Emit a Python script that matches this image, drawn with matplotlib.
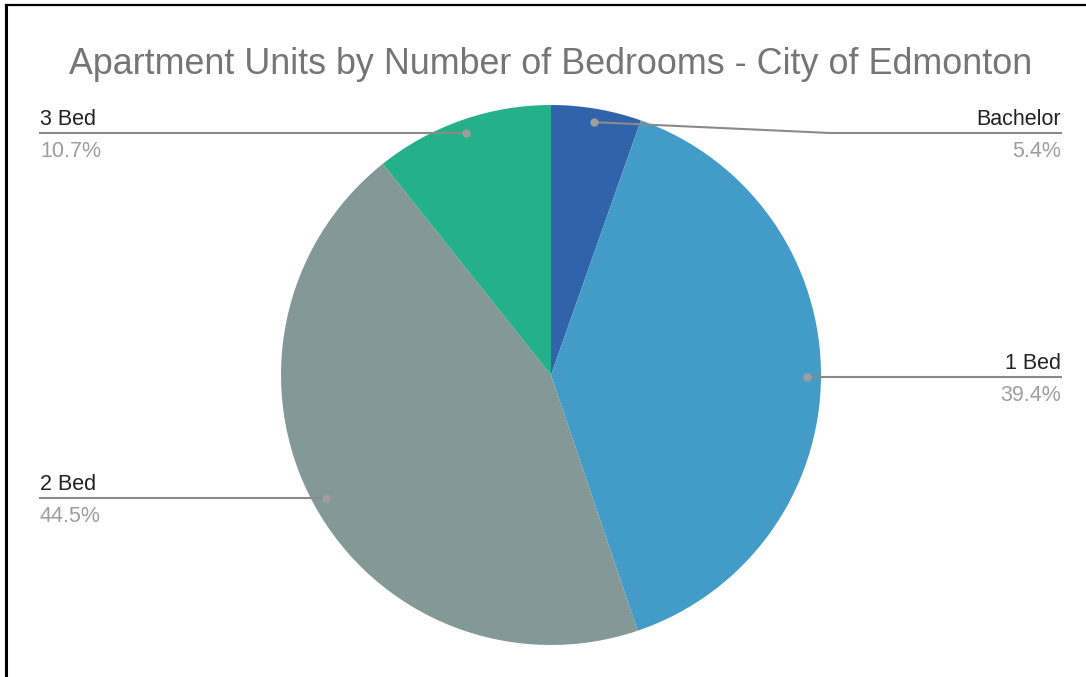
import matplotlib
matplotlib.use("Agg")
import matplotlib.pyplot as plt
import numpy as np
from matplotlib.lines import Line2D

categories = ["Bachelor", "1 Bed", "2 Bed", "3 Bed"]
shares = [5.4, 39.4, 44.5, 10.7]
colors = ["#3163ab", "#439cc8", "#839897", "#24b08a"]
title = "Apartment Units by Number of Bedrooms - City of Edmonton"

W, H = 1086, 677
fig = plt.figure(figsize=(W / 100, H / 100), dpi=100)
plt.rcParams['font.family'] = ['Liberation Sans', 'DejaVu Sans']

cx, cy, R = 551, 375, 270
ax = fig.add_axes([(cx - R) / W, (H - cy - R) / H, 2 * R / W, 2 * R / H])
wedges, _ = ax.pie(shares, colors=colors, startangle=90, counterclock=False,
                   radius=1.0, wedgeprops=dict(linewidth=0))
ax.set_xlim(-1, 1)
ax.set_ylim(-1, 1)
ax.set_aspect('equal')
ax.axis('off')

px = 1.0 / R  # data units per pixel
left_x = (40 - cx) * px
right_x = (1061 - cx) * px
top_line_y = (cy - 133) * px
line_c = "#8a8a8a"
dot_c = "#9e9e9e"

for w, name, val in zip(wedges, categories, shares):
    ang = np.deg2rad((w.theta1 + w.theta2) / 2)
    dx, dy = 0.95 * np.cos(ang), 0.95 * np.sin(ang)
    right = dx > 0
    end_x = right_x if right else left_x
    if dy > 0.8:
        ly = top_line_y
        xs = [dx, (830 - cx) * px if right else dx, end_x]
        ys = [dy, ly, ly]
    else:
        ly = dy
        xs = [dx, end_x]
        ys = [dy, dy]
    ax.add_line(Line2D(xs, ys, color=line_c, lw=1.5, clip_on=False, zorder=3))
    ax.plot([dx], [dy], 'o', ms=6, color=dot_c, mec='none', clip_on=False, zorder=4)
    ha = 'right' if right else 'left'
    ax.text(end_x, ly + 8 * px, name, ha=ha, va='baseline', fontsize=15.5,
            color="#222222", clip_on=False)
    ax.text(end_x, ly - 24 * px, f"{val}%", ha=ha, va='baseline', fontsize=15.5,
            color="#9e9e9e", clip_on=False)

fig.text(cx / W, 1 - 74 / H, title, ha='center', va='baseline', fontsize=25.8,
         color="#757575")

# outer border (left and top)
fig.add_artist(Line2D([6 / W, 6 / W], [0, 1 - 5 / H], color='black', lw=2.2,
                      transform=fig.transFigure))
fig.add_artist(Line2D([6 / W, 1], [1 - 5 / H, 1 - 5 / H], color='black', lw=1.6,
                      transform=fig.transFigure))

fig.savefig("out.png", dpi=100, facecolor='white')
